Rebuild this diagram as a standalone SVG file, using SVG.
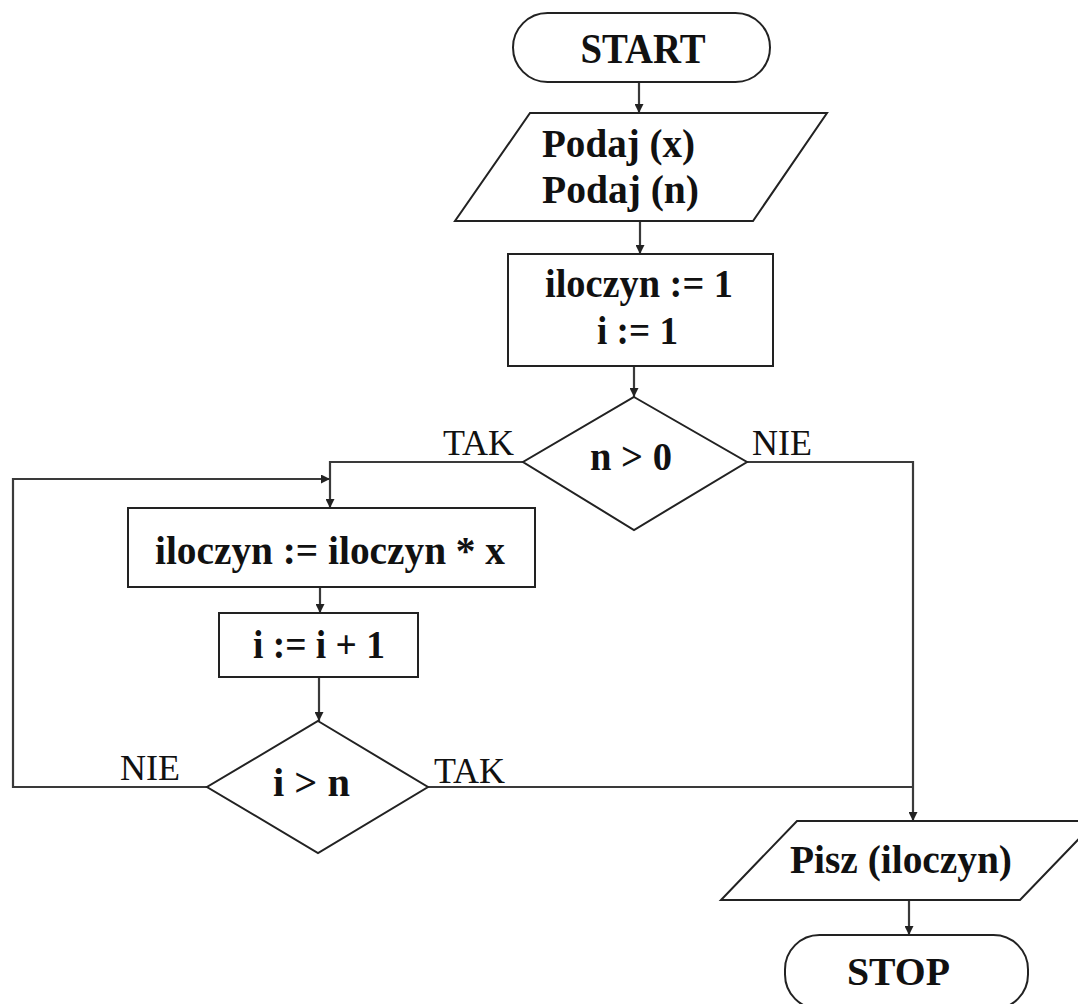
<svg xmlns="http://www.w3.org/2000/svg" width="1078" height="1004" viewBox="0 0 1078 1004">
  <defs>
    <marker id="arrow" viewBox="0 0 10 10" refX="10" refY="5" markerWidth="9" markerHeight="9" markerUnits="userSpaceOnUse" orient="auto">
      <path d="M0,0 L10,5 L0,10 Z" fill="#222"/>
    </marker>
    <style>
      .shape { fill: #fff; stroke: #222; stroke-width: 2; }
      .line { fill: none; stroke: #3a3a3a; stroke-width: 2.2; }
      .arr { marker-end: url(#arrow); }
      .t { font-family: "Liberation Serif", "Times New Roman", serif; font-weight: bold; font-size: 40px; fill: #111; text-anchor: middle; }
      .lbl { font-family: "Liberation Serif", "Times New Roman", serif; font-size: 36px; fill: #111; }
    </style>
  </defs>
  <rect width="1078" height="1004" fill="#fff"/>

  <!-- connectors -->
  <g id="connectors">
    <path class="line arr" d="M639,82 V113"/>
    <path class="line arr" d="M640,221 V254"/>
    <path class="line arr" d="M634,366 V397"/>
    <path class="line arr" d="M523,462 H330 V508"/>
    <path class="line arr" d="M747,462 H913 V821"/>
    <path class="line arr" d="M320,587 V613"/>
    <path class="line arr" d="M319,677 V721"/>
    <path class="line arr" d="M207,787 H13 V479 H330"/>
    <path class="line" d="M428,787 H913"/>
    <path class="line arr" d="M909,900 V935"/>
    <text class="lbl" x="443" y="455">TAK</text>
    <text class="lbl" x="752" y="455">NIE</text>
    <text class="lbl" x="120" y="780">NIE</text>
    <text class="lbl" x="434" y="783">TAK</text>
  </g>

  <g id="start">
    <rect class="shape" x="513" y="13" width="257" height="69" rx="34.5"/>
    <text class="t" x="643" y="63" style="font-size:42px" textLength="125" lengthAdjust="spacingAndGlyphs">START</text>
  </g>

  <g id="input">
    <polygon class="shape" points="530,113 827,113 753,221 455,221"/>
    <text class="t" x="542" y="157" style="text-anchor:start" textLength="153" lengthAdjust="spacingAndGlyphs">Podaj (x)</text>
    <text class="t" x="542" y="203" style="text-anchor:start" textLength="157" lengthAdjust="spacingAndGlyphs">Podaj (n)</text>
  </g>

  <g id="init">
    <rect class="shape" x="508" y="254" width="265" height="112"/>
    <text class="t" x="639" y="297" textLength="188" lengthAdjust="spacingAndGlyphs">iloczyn := 1</text>
    <text class="t" x="637.5" y="344" textLength="81" lengthAdjust="spacingAndGlyphs">i := 1</text>
  </g>

  <g id="check-n">
    <polygon class="shape" points="634,397 747,462 634,530 523,462"/>
    <text class="t" x="631" y="470" textLength="82" lengthAdjust="spacingAndGlyphs">n &gt; 0</text>
  </g>

  <g id="multiply">
    <rect class="shape" x="128" y="508" width="407" height="79"/>
    <text class="t" x="330" y="564" textLength="350" lengthAdjust="spacingAndGlyphs">iloczyn := iloczyn * x</text>
  </g>

  <g id="increment">
    <rect class="shape" x="219" y="613" width="199" height="64"/>
    <text class="t" x="319" y="658" textLength="132" lengthAdjust="spacingAndGlyphs">i := i + 1</text>
  </g>

  <g id="check-i">
    <polygon class="shape" points="318,721 428,787 318,853 207,787"/>
    <text class="t" x="311.5" y="796" textLength="77" lengthAdjust="spacingAndGlyphs">i &gt; n</text>
  </g>

  <g id="output">
    <polygon class="shape" points="797,821 1096,821 1020,900 721,900"/>
    <text class="t" x="901" y="873" textLength="222" lengthAdjust="spacingAndGlyphs">Pisz (iloczyn)</text>
  </g>

  <g id="stop">
    <rect class="shape" x="785" y="935" width="243" height="74" rx="34.5"/>
    <text class="t" x="898.5" y="985" textLength="103" lengthAdjust="spacingAndGlyphs">STOP</text>
  </g>
</svg>
